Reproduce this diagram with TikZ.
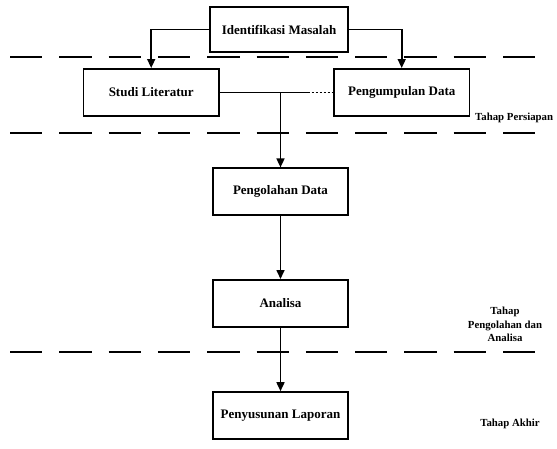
\documentclass[tikz,border=0pt]{standalone}
\usepackage{fontspec}
\setmainfont{Liberation Serif}
\usetikzlibrary{arrows.meta}
\tikzset{
  stepbox/.style={draw, line width=1.9pt, minimum width=135.5pt, minimum height=46.7pt, inner sep=0pt, font=\fontsize{13}{15}\selectfont\bfseries},
  conn/.style={line width=1.6pt, -{Triangle[length=9pt,width=8pt]}},
  plainconn/.style={line width=1.6pt},
  phaseline/.style={line width=2pt, dash pattern=on 32.3pt off 17pt},
  phaselabel/.style={font=\fontsize{10.8}{13.5}\selectfont\bfseries, inner sep=0pt, align=center}
}
\begin{document}
\begin{tikzpicture}[x=1pt,y=-1pt]
\useasboundingbox (0,0) rectangle (557,448);
% phase separators
\coordinate (d1a) at (10,56.7); \coordinate (d1b) at (535,56.7);
\coordinate (d2a) at (10,133.3); \coordinate (d2b) at (535,133.3);
\coordinate (d3a) at (10,351.7); \coordinate (d3b) at (535,351.7);
\draw[phaseline] (d1a) -- (d1b);
\draw[phaseline] (d2a) -- (d2b);
\draw[phaseline] (d3a) -- (d3b);
% boxes
\node[stepbox, minimum width=138pt, minimum height=44.4pt] (idm) at (279,29.5) {Identifikasi Masalah};
\node[stepbox] (stl) at (151.2,92.3) {Studi Literatur};
\node[stepbox] (pgd) at (401.7,92.3) {Pengumpulan Data};
\node[stepbox] (pld) at (280.5,191.7) {Pengolahan Data};
\node[stepbox] (ana) at (280.5,303.3) {Analisa};
\node[stepbox] (pyl) at (280.5,415.5) {Penyusunan Laporan};
% connectors
\draw[conn] (idm.west) -| (stl.north);
\draw[conn] (idm.east) -| (pgd.north);
\coordinate (jn) at (pld.north |- stl.east);
\coordinate (jd) at (307.7,92.3);
\draw[plainconn] (stl.east) -- (jd);
\draw[line width=0.7pt, dash pattern=on 2.5pt off 1.5pt] (jd) -- (pgd.west);
\draw[conn] (jn) -- (pld.north);
\draw[conn] (pld.south) -- (ana.north);
\draw[conn] (ana.south) -- (pyl.north);
% phase labels
\node[phaselabel, anchor=west] (tp1) at (475,118.3) {Tahap Persiapan};
\node[phaselabel] (tp2) at (505,324.7) {Tahap\\Pengolahan dan\\Analisa};
\node[phaselabel] (tp3) at (510,424.3) {Tahap Akhir};
\end{tikzpicture}
\end{document}
